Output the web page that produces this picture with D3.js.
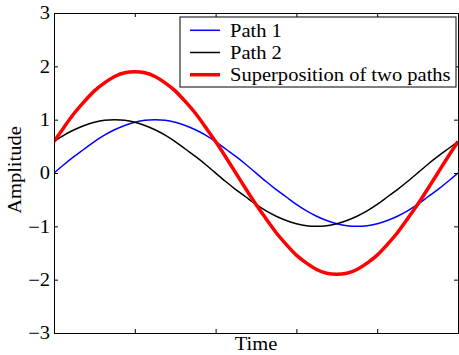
<!DOCTYPE html>
<html>
<head>
<meta charset="utf-8">
<script src="https://cdn.jsdelivr.net/npm/d3@7"></script>
<style>
  body { margin: 0; background: #fff; }
  text { font-family: "Liberation Serif", "Times New Roman", serif; }
</style>
</head>
<body>
<div id="chart"></div>
<script>
var time = d3.range(41);
var path1 = [0.00, 0.16, 0.31, 0.45, 0.59, 0.71, 0.81, 0.89, 0.95, 0.99, 1.00,
             0.99, 0.95, 0.89, 0.81, 0.71, 0.59, 0.45, 0.31, 0.16, 0.00,
             -0.16, -0.31, -0.45, -0.59, -0.71, -0.81, -0.89, -0.95, -0.99, -1.00,
             -0.99, -0.95, -0.89, -0.81, -0.71, -0.59, -0.45, -0.31, -0.16, 0.00];
var path2 = [0.59, 0.71, 0.81, 0.89, 0.95, 0.99, 1.00, 0.99, 0.95, 0.89, 0.81,
             0.71, 0.59, 0.45, 0.31, 0.16, 0.00, -0.16, -0.31, -0.45, -0.59,
             -0.71, -0.81, -0.89, -0.95, -0.99, -1.00, -0.99, -0.95, -0.89, -0.81,
             -0.71, -0.59, -0.45, -0.31, -0.16, 0.00, 0.16, 0.31, 0.45, 0.59];
var superpos = [0.59, 0.86, 1.12, 1.34, 1.54, 1.69, 1.81, 1.88, 1.90, 1.88, 1.81,
                1.69, 1.54, 1.34, 1.12, 0.86, 0.59, 0.30, 0.00, -0.30, -0.59,
                -0.86, -1.12, -1.34, -1.54, -1.69, -1.81, -1.88, -1.90, -1.88, -1.81,
                -1.69, -1.54, -1.34, -1.12, -0.86, -0.59, -0.30, 0.00, 0.30, 0.59];
var seriesNames = ["Path 1", "Path 2", "Superposition of two paths"];
var yTicks = [-3, -2, -1, 0, 1, 2, 3];
var xTicks = [0, 8, 16, 24, 32, 40];

var W = 459, H = 355;
var margin = {left: 54, top: 13, right: 1, bottom: 22};
var width = W - margin.left - margin.right;
var height = H - margin.top - margin.bottom;
var fs = 18;

var svg = d3.select("#chart").append("svg")
    .attr("width", W).attr("height", H);
var g = svg.append("g")
    .attr("transform", "translate(" + margin.left + "," + margin.top + ")");

var x = d3.scaleLinear().domain([0, 40]).range([0, width]);
var y = d3.scaleLinear().domain([-3, 3]).range([height, 0]);

g.append("defs").append("clipPath").attr("id", "clip")
  .append("rect").attr("width", width).attr("height", height);

var plot = g.append("g").attr("clip-path", "url(#clip)");
var line = function(vals) {
    return d3.line()
        .x(function(d, i) { return x(time[i]); })
        .y(function(d) { return y(d); })
        .curve(d3.curveNatural)(vals);
};
var series = [
    {vals: path1, color: "#0000ff", w: 1.5},
    {vals: path2, color: "#000000", w: 1.5},
    {vals: superpos, color: "#ff0000", w: 3.5}
];
series.forEach(function(s) {
    plot.append("path")
        .attr("d", line(s.vals))
        .attr("fill", "none")
        .attr("stroke", s.color)
        .attr("stroke-width", s.w)
        .attr("stroke-linejoin", "round");
});

// axes (ticks pointing inward like MATLAB)
var axStyle = function(sel) {
    sel.select(".domain").attr("stroke", "#000").attr("stroke-width", 1);
    sel.selectAll(".tick line").attr("stroke", "#000");
    sel.selectAll("text").attr("font-size", fs).attr("fill", "#000")
        .attr("font-family", "Liberation Serif");
};
g.append("g").attr("transform", "translate(0," + height + ")")
    .call(d3.axisBottom(x).tickValues(xTicks).tickSize(-4).tickSizeOuter(0).tickFormat(""))
    .call(axStyle);
g.append("g")
    .call(d3.axisTop(x).tickValues(xTicks).tickSize(-4).tickSizeOuter(0).tickFormat(""))
    .call(axStyle);
g.append("g")
    .call(d3.axisLeft(y).tickValues(yTicks).tickSize(-4).tickSizeOuter(0).tickPadding(4)
        .tickFormat(function(d) { return d < 0 ? "\u2212" + Math.abs(d) : d; }))
    .call(axStyle);
g.append("g").attr("transform", "translate(" + width + ",0)")
    .call(d3.axisRight(y).tickValues(yTicks).tickSize(-4).tickSizeOuter(0).tickFormat(""))
    .call(axStyle);

svg.append("text")
    .attr("x", 256).attr("y", 350)
    .attr("text-anchor", "middle").attr("font-size", fs)
    .text("Time");
svg.append("text")
    .attr("transform", "translate(21,170) rotate(-90)")
    .attr("text-anchor", "middle").attr("font-size", fs)
    .text("Amplitude");

// legend
var leg = svg.append("g").attr("transform", "translate(180,17)");
leg.append("rect").attr("width", 276).attr("height", 70)
    .attr("fill", "#fff").attr("stroke", "#000").attr("stroke-width", 1);
seriesNames.forEach(function(name, i) {
    var yy = 13.3 + i * 22.2;
    leg.append("line").attr("x1", 10).attr("x2", 40).attr("y1", yy).attr("y2", yy)
        .attr("stroke", series[i].color).attr("stroke-width", series[i].w);
    leg.append("text").attr("x", 50).attr("y", yy + 6.7)
        .attr("font-size", fs).text(name);
});

// the reference typeface is a bit wider than Liberation Serif
svg.selectAll("text").each(function() {
    var n = this.getComputedTextLength();
    if (n > 0) d3.select(this).attr("textLength", n * 1.14).attr("lengthAdjust", "spacingAndGlyphs");
});
</script>
</body>
</html>
